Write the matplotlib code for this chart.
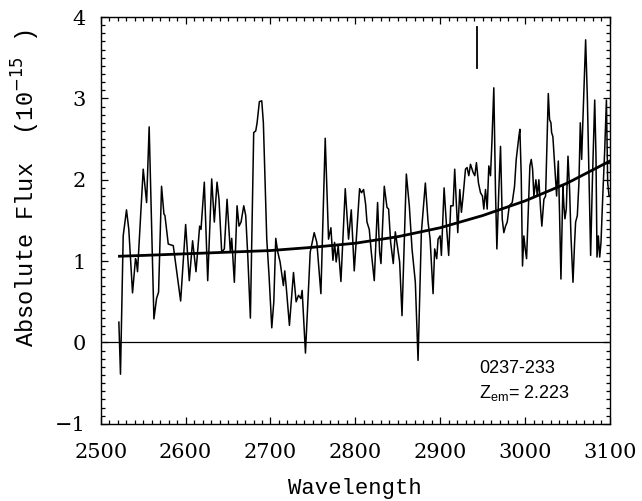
import numpy as np
import matplotlib
matplotlib.use("Agg")
import matplotlib.pyplot as plt
from matplotlib.ticker import MultipleLocator

# spectrum (wavelength, absolute flux in 1e-15)
wave = [2521.3, 2523.2, 2526.4, 2530.3, 2533.0, 2537.4, 2540.9, 2542.0, 2543.3, 2550.0,
        2554.0, 2557.0, 2562.6, 2565.7, 2568.1, 2571.6, 2574.4, 2575.6, 2579.5, 2585.4,
        2594.1, 2600.0, 2604.3, 2608.2, 2612.2, 2616.5, 2618.1, 2622.0, 2626.0, 2630.7,
        2633.8, 2637.0, 2639.3, 2642.5, 2645.6, 2648.8, 2652.7, 2654.3, 2657.4, 2660.6,
        2662.9, 2665.3, 2668.5, 2670.8, 2673.2, 2676.3, 2680.2, 2682.6, 2684.2, 2686.9,
        2689.7, 2691.6, 2695.6, 2698.3, 2701.5, 2703.9, 2706.2, 2708.6, 2711.3, 2715.2,
        2716.8, 2718.4, 2722.3, 2727.1, 2730.2, 2733.0, 2735.8, 2737.3, 2741.2, 2746.8,
        2751.5, 2754.6, 2759.4, 2764.5, 2768.4, 2771.2, 2773.6, 2775.5, 2777.4, 2779.8,
        2783.0, 2788.1, 2792.0, 2795.2, 2798.7, 2805.0, 2807.3, 2809.7, 2812.1, 2813.7,
        2816.4, 2818.8, 2822.3, 2826.2, 2828.6, 2830.2, 2834.1, 2837.3, 2839.2, 2841.6,
        2844.7, 2847.1, 2849.5, 2852.2, 2855.0, 2860.1, 2863.6, 2866.8, 2870.7, 2873.9,
        2877.8, 2882.5, 2885.7, 2888.1, 2891.6, 2893.5, 2895.9, 2897.5, 2899.9, 2901.4,
        2904.6, 2907.7, 2910.0, 2912.4, 2915.2, 2917.1, 2920.7, 2923.1, 2925.0, 2927.0,
        2929.8, 2931.7, 2933.7, 2935.7, 2938.8, 2940.8, 2942.7, 2945.1, 2947.5, 2949.8,
        2951.4, 2953.4, 2955.4, 2957.3, 2959.3, 2960.9, 2963.2, 2965.2, 2966.8, 2969.1,
        2971.1, 2973.1, 2975.0, 2977.0, 2979.0, 2981.4, 2984.9, 2987.6, 2989.6, 2992.7,
        2993.9, 2995.5, 2997.0, 2998.6, 3000.2, 3001.8, 3003.3, 3005.7, 3007.3, 3008.9,
        3010.4, 3012.8, 3014.4, 3016.3, 3018.3, 3019.8, 3022.2, 3024.2, 3027.4, 3028.9,
        3030.5, 3031.3, 3032.8, 3035.2, 3037.2, 3039.2, 3040.7, 3042.3, 3044.6, 3045.8,
        3047.0, 3048.6, 3050.6, 3052.5, 3054.1, 3056.5, 3058.4, 3059.6, 3061.6, 3063.5,
        3065.1, 3066.7, 3068.2, 3071.4, 3073.4, 3075.3, 3077.3, 3079.3, 3082.1, 3083.6,
        3084.8, 3086.4, 3088.0, 3089.5, 3091.9, 3093.9, 3095.9, 3097.4, 3099.0, 3100.0]
flux = [0.25, -0.39, 1.31, 1.63, 1.39, 0.61, 1.03, 0.99, 0.87, 2.13,
        1.72, 2.65, 0.29, 0.54, 0.62, 1.92, 1.58, 1.56, 1.21, 1.19,
        0.51, 1.45, 0.76, 1.25, 0.87, 1.43, 1.39, 1.97, 0.76, 2.01,
        1.48, 1.97, 1.76, 1.11, 1.15, 1.76, 1.11, 1.28, 0.74, 1.68,
        1.43, 1.48, 1.68, 1.56, 1.07, 0.30, 2.58, 2.60, 2.70, 2.96,
        2.97, 2.70, 1.27, 0.82, 0.18, 0.50, 1.28, 1.11, 0.99, 0.70,
        0.88, 0.70, 0.21, 0.86, 0.50, 0.58, 0.54, 0.64, -0.13, 1.11,
        1.35, 1.23, 0.60, 2.51, 1.27, 1.41, 1.01, 1.23, 0.99, 1.19,
        0.75, 1.89, 1.27, 1.63, 0.88, 1.89, 1.84, 1.88, 1.70, 1.48,
        1.39, 1.11, 0.76, 1.72, 1.11, 0.97, 1.92, 1.66, 1.64, 1.23,
        0.97, 1.36, 1.19, 0.99, 0.33, 2.07, 1.68, 1.15, 0.74, -0.22,
        1.35, 1.96, 1.48, 1.27, 0.60, 1.15, 1.03, 1.27, 1.31, 1.07,
        1.90, 1.39, 1.07, 1.68, 1.68, 2.13, 1.35, 1.88, 1.60, 1.80,
        2.13, 2.15, 2.05, 2.19, 2.09, 2.05, 2.21, 1.96, 1.84, 1.80,
        1.64, 1.88, 1.64, 2.17, 2.05, 2.45, 3.13, 1.84, 1.15, 1.88,
        2.41, 1.52, 1.35, 1.43, 1.48, 1.68, 1.72, 1.92, 2.25, 2.53,
        2.62, 2.05, 0.94, 1.31, 1.15, 1.03, 1.48, 2.17, 2.25, 2.13,
        1.80, 2.00, 1.80, 2.00, 1.64, 1.43, 1.76, 1.80, 3.06, 2.74,
        2.70, 2.58, 2.53, 2.13, 1.80, 2.23, 1.56, 0.78, 1.92, 1.68,
        1.52, 1.64, 2.29, 1.88, 1.31, 0.74, 1.23, 1.48, 1.56, 1.96,
        2.70, 2.25, 2.74, 3.72, 3.02, 2.05, 1.07, 1.96, 2.98, 2.29,
        1.05, 1.31, 1.05, 1.23, 1.88, 2.37, 2.98, 1.96, 1.80, 1.80]

# fitted continuum
cont_wave = [2522, 2550, 2600, 2650, 2700, 2750, 2800, 2850, 2900, 2950, 3000, 3050, 3100]
cont_flux = [1.06, 1.07, 1.09, 1.11, 1.13, 1.17, 1.22, 1.30, 1.41, 1.56, 1.74, 1.96, 2.23]

# marker bar above the spectrum
mark_wave = 2943
mark_lo, mark_hi = 3.37, 3.88

qso_name = "0237-233"
z_em = "2.223"

fig = plt.figure(figsize=(6.42, 5.01), dpi=100)
ax = fig.add_axes([0.157, 0.154, 0.793, 0.812])

ax.plot(wave, flux, color="black", lw=1.1)
ax.plot(cont_wave, cont_flux, color="black", lw=2.0)
ax.axhline(0, color="black", lw=0.9)
ax.plot([mark_wave, mark_wave], [mark_lo, mark_hi], color="black", lw=1.3)

ax.set_xlim(2500, 3100)
ax.set_ylim(-1, 4)
ax.xaxis.set_major_locator(MultipleLocator(100))
ax.xaxis.set_minor_locator(MultipleLocator(10))
ax.yaxis.set_major_locator(MultipleLocator(1))
ax.yaxis.set_minor_locator(MultipleLocator(0.1))
ax.tick_params(which="both", direction="in", top=True, right=True, width=0.9)
ax.tick_params(which="major", length=5)
ax.tick_params(which="minor", length=3)
ax.tick_params(axis="x", which="major", pad=14)
ax.tick_params(axis="y", which="major", pad=11)
for s in ax.spines.values():
    s.set_linewidth(1.0)

for lab in ax.get_xticklabels() + ax.get_yticklabels():
    lab.set_fontfamily("DejaVu Serif")
    lab.set_fontsize(15)

plt.rcParams["mathtext.fontset"] = "custom"
plt.rcParams["mathtext.rm"] = "Liberation Mono"
ax.set_xlabel("Wavelength", family="Liberation Mono", fontsize=16)
ax.set_ylabel(r"Absolute Flux  (10$^{-15}$ )", family="Liberation Mono", fontsize=17)
ax.xaxis.set_label_coords(0.5, -0.133)
ax.yaxis.set_label_coords(-0.115, 0.58)

ax.text(2946, -0.32, qso_name, family="Liberation Sans", fontsize=13, va="center")
ax.text(2946, -0.62, r"$\mathregular{Z_{em}}$= " + z_em, family="Liberation Sans",
        fontsize=13, va="center")

fig.savefig("out.png", dpi=100)
